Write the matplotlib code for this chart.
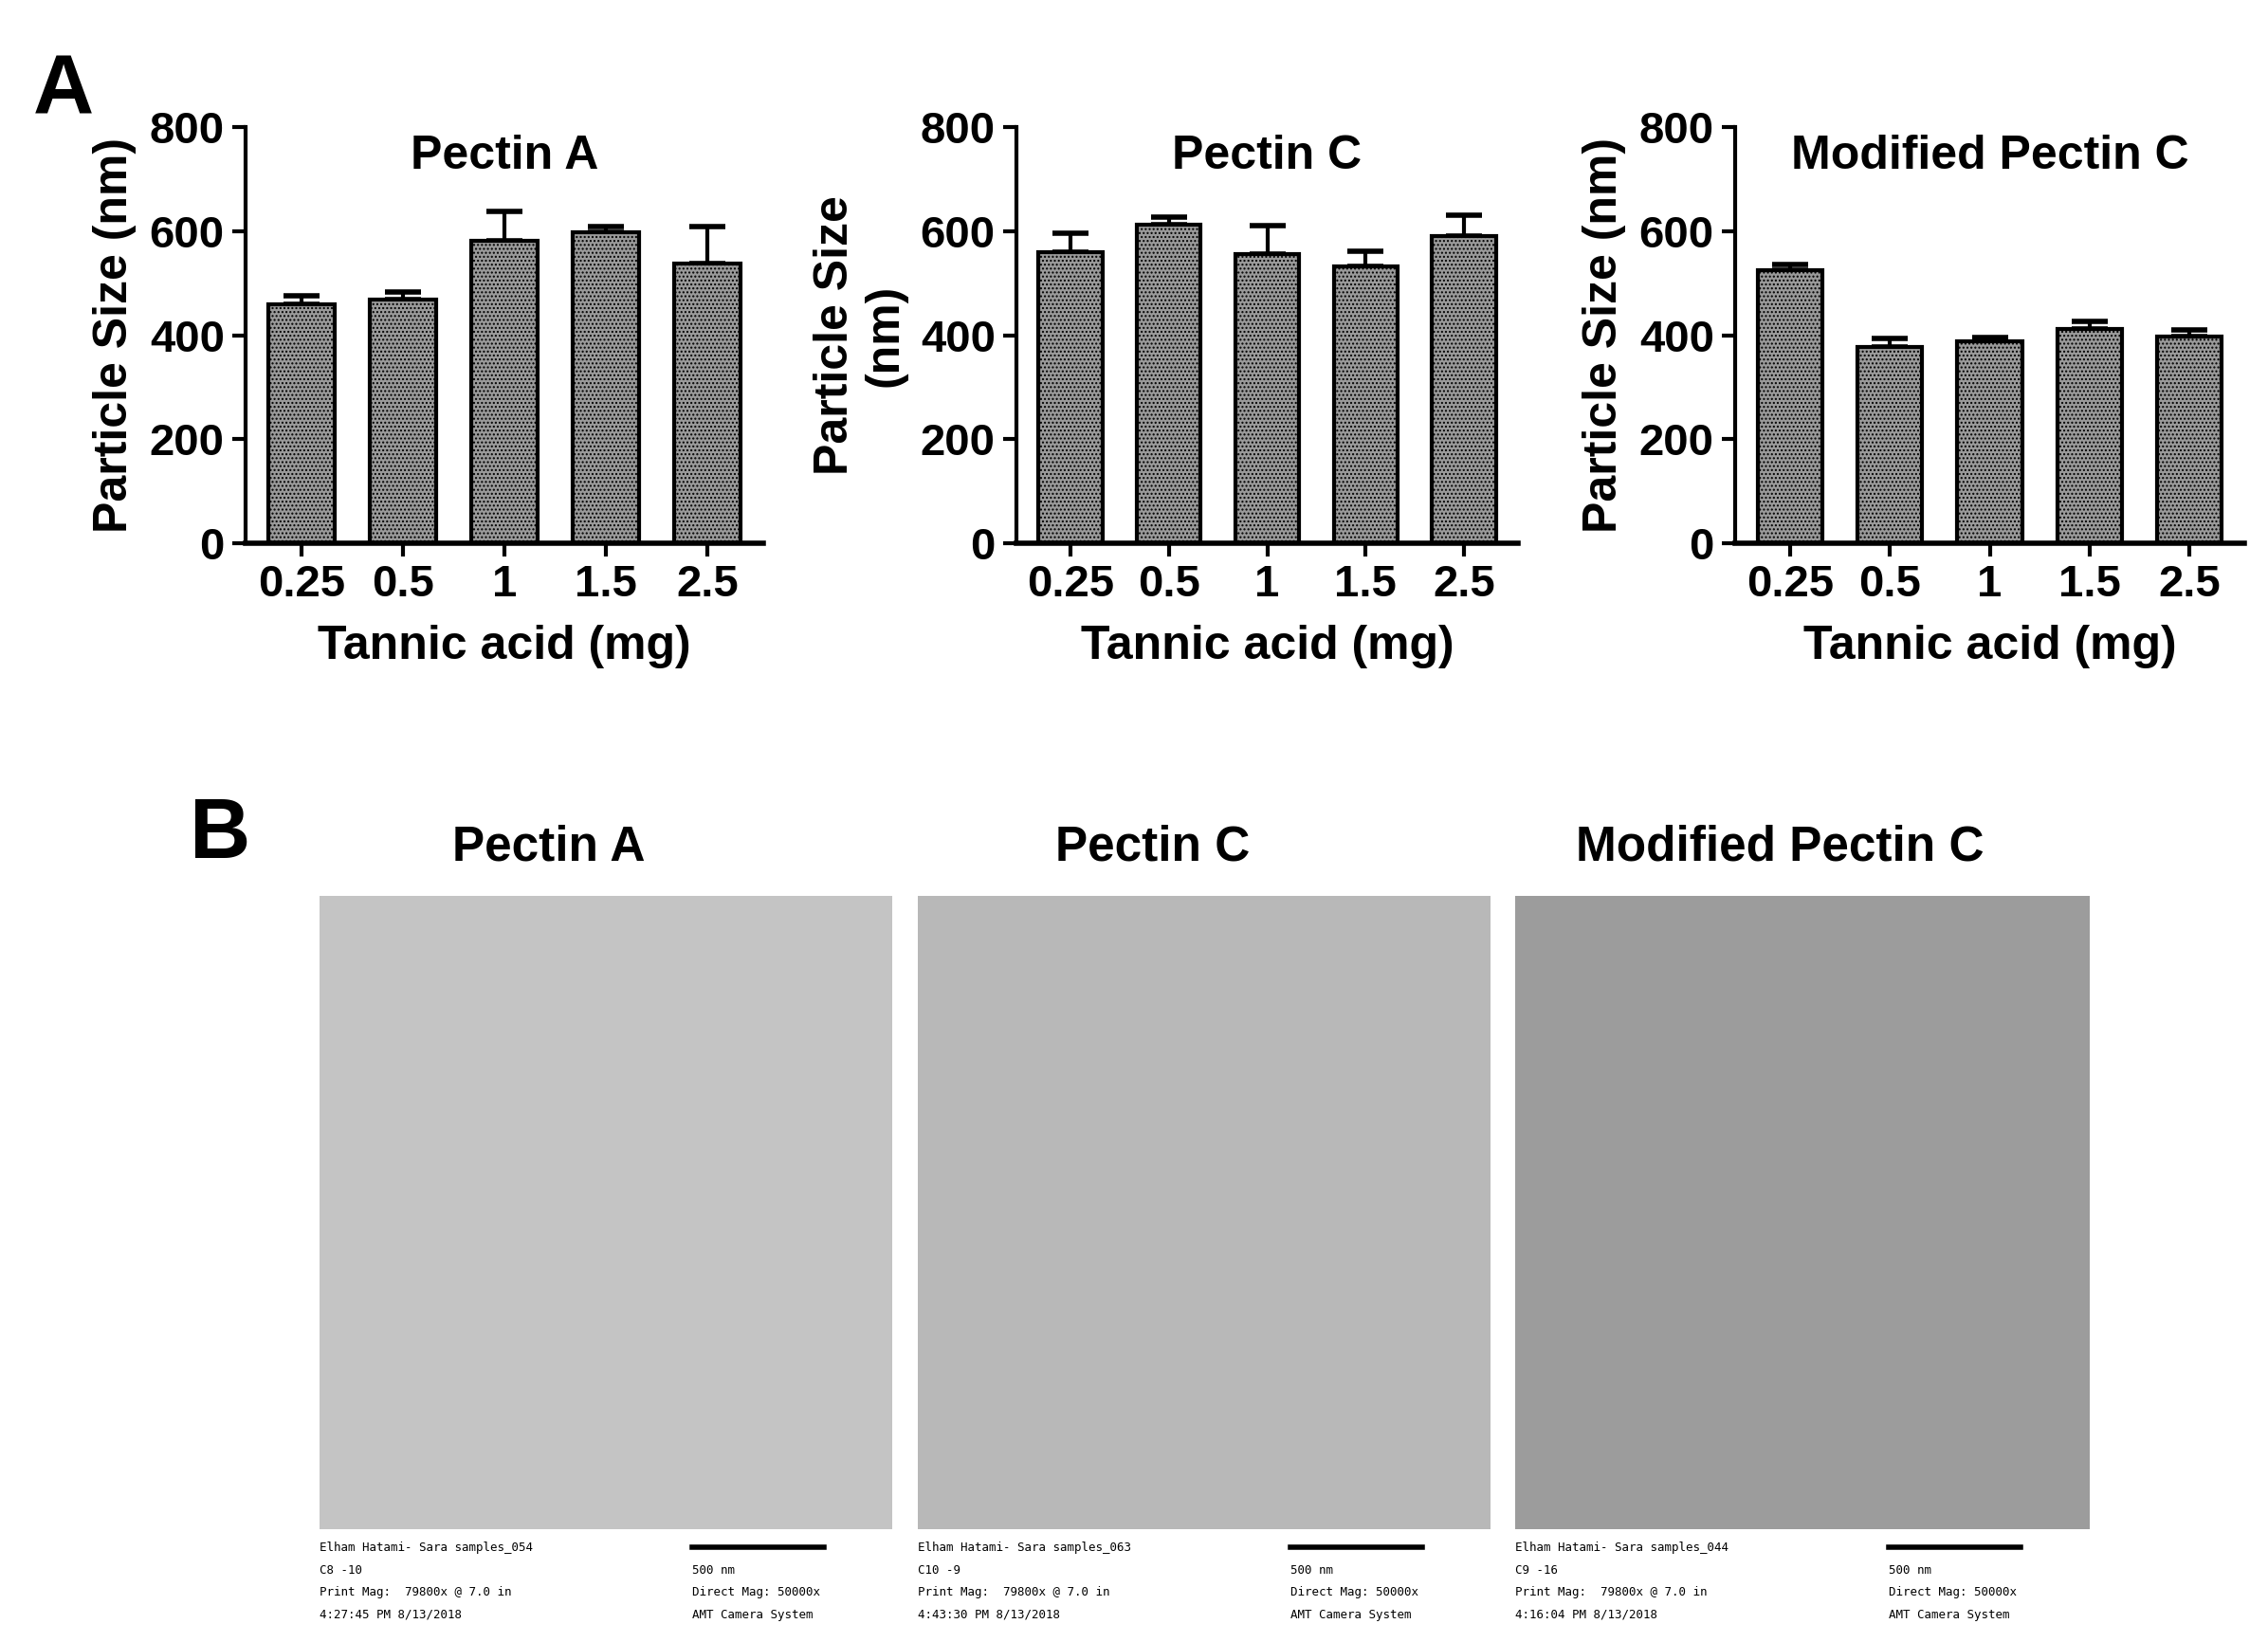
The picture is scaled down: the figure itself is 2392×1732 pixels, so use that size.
import numpy as np
import matplotlib
matplotlib.use("Agg")
import matplotlib.pyplot as plt

plt.rcParams['font.family'] = ['Liberation Sans', 'DejaVu Sans']
plt.rcParams['font.weight'] = 'bold'

doses = ["0.25", "0.5", "1", "1.5", "2.5"]
titles = ["Pectin A", "Pectin C", "Modified Pectin C"]
pectin_a = [460, 468, 582, 598, 538]
pectin_a_err = [15, 15, 55, 10, 70]
pectin_c = [560, 612, 555, 532, 590]
pectin_c_err = [35, 15, 55, 30, 40]
mod_c = [525, 378, 388, 412, 398]
mod_c_err = [10, 15, 8, 15, 12]

img_names = ["Pectin A", "Pectin C", "Modified Pectin C"]
img_title_x = [0.40, 0.41, 0.46]
img_shades = ["#c4c4c4", "#b8b8b8", "#9c9c9c"]
img_ids = ["054", "063", "044"]
img_cs = ["C8 -10", "C10 -9", "C9 -16"]
img_times = ["4:27:45 PM 8/13/2018", "4:43:30 PM 8/13/2018", "4:16:04 PM 8/13/2018"]

W, H = 2392, 1732
fig = plt.figure(figsize=(W / 100, H / 100), dpi=100)

def box(x0, y0, x1, y1):
    return [x0 / W, 1 - y1 / H, (x1 - x0) / W, (y1 - y0) / H]

boxes = [box(259, 134, 805, 573), box(1072, 134, 1601, 573), box(1830, 134, 2367, 573)]
series = [(pectin_a, pectin_a_err), (pectin_c, pectin_c_err), (mod_c, mod_c_err)]

for i, (b, (vals, errs)) in enumerate(zip(boxes, series)):
    ax = fig.add_axes(b)
    x = np.arange(len(doses))
    ax.bar(x, vals, width=0.65, color="#9a9a9a", edgecolor="black", linewidth=3,
           hatch="....", zorder=2)
    ax.errorbar(x, vals, yerr=[np.zeros(len(errs)), errs], fmt="none", ecolor="black",
                elinewidth=3, capsize=14, capthick=4, zorder=1)
    ax.set_ylim(0, 800)
    ax.set_xlim(-0.55, 4.55)
    ax.set_yticks([0, 200, 400, 600, 800])
    ax.set_xticks(x)
    ax.set_xticklabels(doses)
    ax.tick_params(labelsize=34, width=3, length=10, pad=6)
    for s in ["top", "right"]:
        ax.spines[s].set_visible(False)
    ax.spines["left"].set_linewidth(3)
    ax.spines["bottom"].set_linewidth(4)
    ax.set_xlabel("Tannic acid (mg)", fontsize=36, fontweight="bold", labelpad=14)
    if i == 1:
        ax.set_ylabel("Particle Size\n(nm)", fontsize=36, fontweight="bold", labelpad=10)
    else:
        ax.set_ylabel("Particle Size (nm)", fontsize=36, fontweight="bold", labelpad=10)
    ax.set_title(titles[i], fontsize=36, fontweight="bold", y=0.88)

fig.text(35 / W, 1 - 120 / H, "A", fontsize=64, fontweight="bold")
fig.text(200 / W, 1 - 905 / H, "B", fontsize=64, fontweight="bold")

img_boxes = [box(337, 945, 941, 1613), box(968, 945, 1572, 1613), box(1598, 945, 2204, 1613)]
for b, name, tx, shade, iid, cs, tm in zip(img_boxes, img_names, img_title_x, img_shades,
                                          img_ids, img_cs, img_times):
    ax = fig.add_axes(b)
    ax.set_facecolor(shade)
    ax.set_xticks([])
    ax.set_yticks([])
    for s in ax.spines.values():
        s.set_visible(False)
    ax.text(tx, 1.04, name, transform=ax.transAxes, ha="center", va="bottom",
            fontsize=37, fontweight="bold")
    lines = ["Elham Hatami- Sara samples_" + iid, cs, "Print Mag:  79800x @ 7.0 in", tm]
    right = ["", "500 nm", "Direct Mag: 50000x", "AMT Camera System"]
    for k in range(4):
        ax.text(0.0, -0.02 - k * 0.035, lines[k], transform=ax.transAxes, fontsize=9,
                family="DejaVu Sans Mono", fontweight="normal", va="top")
        ax.text(0.65, -0.02 - k * 0.035, right[k], transform=ax.transAxes, fontsize=9,
                family="DejaVu Sans Mono", fontweight="normal", va="top")
    ax.plot([0.65, 0.88], [-0.028, -0.028], transform=ax.transAxes, color="black",
            lw=4, clip_on=False)

fig.savefig("out.png", dpi=100)
